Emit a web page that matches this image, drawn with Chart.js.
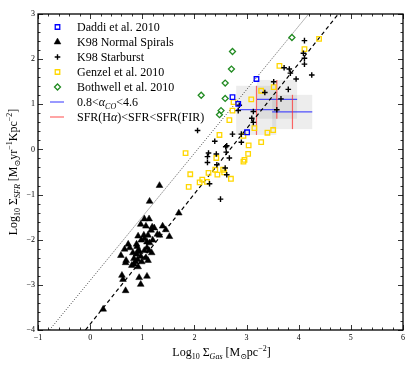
<!DOCTYPE html>
<html>
<head>
<meta charset="utf-8">
<script src="https://cdn.jsdelivr.net/npm/chart.js@4.4.1/dist/chart.umd.min.js"></script>
<style>
body { margin: 0; background: #fff; }
#wrap { width: 415px; height: 365px; }
</style>
</head>
<body>
<div id="wrap"><canvas id="ksChart" width="415" height="365"></canvas></div>
<script>
const SERIF = '"Liberation Serif", "DejaVu Serif", serif';

// axis ranges / tick labels
const xTicks = [-1, 0, 1, 2, 3, 4, 5, 6];
const yTicks = [-4, -3, -2, -1, 0, 1, 2, 3];

// Daddi et al. 2010
const daddiX = [3.19, 2.73, 2.84, 3.01];
const daddiY = [1.56, 1.16, 1.01, 0.38];

// K98 normal spirals
const normalX = [1.33, 1.14, 1.70, 1.04, 1.13, 0.97, 1.07, 1.19, 1.23, 1.39, 1.45, 1.17, 0.92, 1.03, 1.11, 1.29, 1.33, 1.52, 0.73, 0.76,
                 0.89, 0.98, 1.04, 1.09, 1.14, 1.20, 0.66, 0.82, 0.90, 0.92, 1.04, 1.13, 1.09, 1.18, 0.59, 0.69, 0.84, 0.89, 0.97, 1.07,
                 1.11, 0.95, 0.68, 0.80, 0.87, 0.92, 0.84, 0.99, 0.91, 0.61, 0.63, 0.94, 1.09, 0.97, 0.68, 0.25];
const normalY = [-0.80, -1.15, -1.41, -1.54, -1.54, -1.66, -1.70, -1.72, -1.74, -1.70, -1.78, -1.79, -1.92, -1.90, -1.90, -1.88, -1.90, -1.93, -2.10, -2.18,
                 -2.10, -2.01, -1.98, -2.05, -2.07, -2.01, -2.21, -2.29, -2.15, -2.24, -2.24, -2.24, -2.18, -2.29, -2.35, -2.46, -2.42, -2.32, -2.37, -2.40,
                 -2.46, -2.27, -2.51, -2.57, -2.49, -2.60, -2.54, -2.49, -2.44, -2.79, -2.88, -2.84, -2.81, -2.99, -3.13, -3.54];

// K98 starburst
const starX = [4.11, 4.09, 4.11, 4.11, 3.72, 3.82, 3.84, 3.95, 4.25, 3.52, 3.35, 3.80, 3.66, 3.58, 2.86, 2.84, 3.13, 3.10, 3.13, 2.73,
               2.90, 2.90, 2.39, 2.62, 2.60, 2.61, 2.67, 2.42, 2.25, 2.25, 2.27, 2.43, 2.59, 2.62, 2.29, 2.50, 2.06];
const starY = [2.41, 2.13, 2.02, 1.89, 1.81, 1.78, 1.69, 1.56, 1.65, 1.50, 1.26, 1.33, 1.12, 0.88, 0.98, 0.86, 0.84, 0.69, 0.60, 0.34,
               0.34, 0.16, 0.18, 0.08, 0.06, -0.06, -0.19, -0.10, -0.16, -0.29, -0.08, -0.34, -0.41, -0.56, -0.76, -1.10, 0.42];

// Genzel et al. 2010
const genzelX = [4.39, 4.11, 3.63, 3.52, 3.28, 3.09, 2.75, 2.73, 2.67, 2.48, 3.15, 3.51, 3.40, 2.94, 3.28, 3.04,
                 3.03, 2.96, 2.94, 2.42, 2.27, 2.40, 2.55, 2.57, 2.44, 2.70, 2.15, 1.92, 1.89, 2.10, 2.24, 1.83];
const genzelY = [2.45, 2.22, 1.85, 1.38, 1.30, 1.11, 1.05, 0.86, 0.65, 0.32, 0.47, 0.43, 0.37, 0.30, 0.16, 0.09,
                 -0.10, -0.23, -0.27, -0.19, -0.52, -0.45, -0.45, -0.51, -0.56, -0.65, -0.67, -0.55, -0.83, -0.73, -0.72, -0.08];

// Bothwell et al. 2010
const bothwellX = [2.13, 2.73, 2.71, 2.59, 2.59, 3.87, 2.51, 2.48];
const bothwellY = [1.20, 2.17, 1.78, 1.47, 1.13, 2.48, 0.86, 0.77];

// points with ranges (alpha_CO range in x, SFR range in y)
const errX = [3.19, 3.58, 3.88];
const errY = [0.88, 1.11, 0.83];
const errXLo = [2.80, 3.20, 3.49];
const errXHi = [3.57, 3.97, 4.26];
const errYLo = [0.32, 0.68, 0.45];
const errYHi = [1.41, 1.54, 1.21];

// relations
const kennX = [-0.09, 4.76];
const kennY = [-4, 3];
const dotX = [-0.78, 4.19];
const dotY = [-4, 3];

const legendLabels = [
    [['Daddi et al. 2010', '']],
    [['K98 Normal Spirals', '']],
    [['K98 Starburst', '']],
    [['Genzel et al. 2010', '']],
    [['Bothwell et al. 2010', '']],
    [['0.8<', ''], ['α', 'i'], ['CO', 'bi'], ['<4.6', '']],
    [['SFR(H', ''], ['α', 'i'], [')<SFR<SFR(FIR)', '']]
];
const xTitle = [['Log', ''], ['10', 'b'], [' Σ', ''], ['Gas', 'bi'], [' [M', ''], ['⊙', 'b'], ['pc', ''], ['−2', 'p'], [']', '']];
const yTitle = [['Log', ''], ['10', 'b'], [' Σ', ''], ['SFR', 'bi'], [' [M', ''], ['⊙', 'b'], ['yr', ''], ['−1', 'p'], ['Kpc', ''], ['−2', 'p'], [']', '']];

function pts(xs, ys) {
    return xs.map((x, i) => ({ x: x, y: ys[i] }));
}

function partFont(kind, size) {
    const small = kind.includes('b') || kind.includes('p');
    return (kind.includes('i') ? 'italic ' : '') + (small ? Math.round(size * 0.7) : size) + 'px ' + SERIF;
}
function partShift(kind, size) {
    if (kind.includes('b')) return size * 0.25;
    if (kind.includes('p')) return -size * 0.4;
    return 0;
}
function richWidth(ctx, parts, size) {
    let w = 0;
    for (const p of parts) {
        ctx.font = partFont(p[1], size);
        w += ctx.measureText(p[0]).width;
    }
    return w;
}
function drawRich(ctx, parts, x, y, size, align) {
    let cx = x;
    if (align === 'center') cx = x - richWidth(ctx, parts, size) / 2;
    ctx.textAlign = 'left';
    ctx.textBaseline = 'alphabetic';
    for (const p of parts) {
        ctx.font = partFont(p[1], size);
        ctx.fillText(p[0], cx, y + partShift(p[1], size));
        cx += ctx.measureText(p[0]).width;
    }
}

function tickFmt(v) {
    return v < 0 ? '−' + Math.abs(v) : String(v);
}

const decor = {
    id: 'decor',
    beforeDatasetsDraw(chart) {
        const ctx = chart.ctx, xs = chart.scales.x, ys = chart.scales.y, a = chart.chartArea;
        ctx.save();
        ctx.beginPath();
        ctx.rect(a.left, a.top, a.right - a.left, a.bottom - a.top);
        ctx.clip();
        ctx.fillStyle = 'rgba(0,0,0,0.07)';
        for (let i = 0; i < errX.length; i++) {
            const x0 = xs.getPixelForValue(errXLo[i]), x1 = xs.getPixelForValue(errXHi[i]);
            const y0 = ys.getPixelForValue(errYHi[i]), y1 = ys.getPixelForValue(errYLo[i]);
            ctx.fillRect(x0, y0, x1 - x0, y1 - y0);
        }
        ctx.lineWidth = 1.2;
        for (let i = 0; i < errX.length; i++) {
            const cx = xs.getPixelForValue(errX[i]), cy = ys.getPixelForValue(errY[i]);
            ctx.strokeStyle = 'rgba(40,40,255,0.8)';
            ctx.beginPath();
            ctx.moveTo(xs.getPixelForValue(errXLo[i]), cy);
            ctx.lineTo(xs.getPixelForValue(errXHi[i]), cy);
            ctx.stroke();
            ctx.strokeStyle = 'rgba(255,40,40,0.7)';
            ctx.beginPath();
            ctx.moveTo(cx, ys.getPixelForValue(errYLo[i]));
            ctx.lineTo(cx, ys.getPixelForValue(errYHi[i]));
            ctx.stroke();
        }
        ctx.restore();
    },
    afterDraw(chart) {
        const ctx = chart.ctx, xs = chart.scales.x, ys = chart.scales.y, a = chart.chartArea;
        ctx.save();
        // frame
        ctx.strokeStyle = '#000';
        ctx.lineWidth = 1.3;
        ctx.strokeRect(a.left, a.top, a.right - a.left, a.bottom - a.top);
        // inward ticks on all sides
        ctx.lineWidth = 0.8;
        ctx.beginPath();
        for (let i = 0; i <= 35; i++) {
            const v = xTicks[0] + i * 0.2;
            const len = i % 5 === 0 ? 5 : 2.5;
            const px = Math.round(xs.getPixelForValue(v)) + 0.5;
            ctx.moveTo(px, a.bottom); ctx.lineTo(px, a.bottom - len);
            ctx.moveTo(px, a.top); ctx.lineTo(px, a.top + len);
        }
        for (let i = 0; i <= 35; i++) {
            const v = yTicks[0] + i * 0.2;
            const len = i % 5 === 0 ? 5 : 2.5;
            const py = Math.round(ys.getPixelForValue(v)) + 0.5;
            ctx.moveTo(a.left, py); ctx.lineTo(a.left + len, py);
            ctx.moveTo(a.right, py); ctx.lineTo(a.right - len, py);
        }
        ctx.stroke();

        // legend
        const rowY = [27, 42, 57, 72, 87, 102, 117];
        const mx = 57.5, tx = 77;
        chart.data.datasets.forEach((ds, i) => {
            if (i >= 5) return;
            ctx.fillStyle = ds.pointBackgroundColor;
            ctx.strokeStyle = ds.pointBorderColor;
            ctx.lineWidth = ds.pointBorderWidth;
            Chart.helpers.drawPoint(ctx, { pointStyle: ds.pointStyle, radius: ds.pointRadius, rotation: 0, borderWidth: ds.pointBorderWidth }, mx, rowY[i]);
        });
        ctx.lineWidth = 1.2;
        ctx.strokeStyle = 'rgba(40,40,255,0.8)';
        ctx.beginPath(); ctx.moveTo(50, rowY[5]); ctx.lineTo(64, rowY[5]); ctx.stroke();
        ctx.strokeStyle = 'rgba(255,40,40,0.7)';
        ctx.beginPath(); ctx.moveTo(50, rowY[6]); ctx.lineTo(64, rowY[6]); ctx.stroke();
        ctx.fillStyle = '#000';
        legendLabels.forEach((parts, i) => drawRich(ctx, parts, tx, rowY[i] + 4, 12, 'left'));

        // axis titles
        drawRich(ctx, xTitle, (a.left + a.right) / 2 + 1, 356, 12, 'center');
        ctx.translate(17, (a.top + a.bottom) / 2);
        ctx.rotate(-Math.PI / 2);
        drawRich(ctx, yTitle, 0, 0, 12, 'center');
        ctx.restore();
    }
};

const ctx = document.getElementById('ksChart').getContext('2d');
const ksChart = new Chart(ctx, {
    type: 'scatter',
    data: {
        datasets: [{
            label: 'Daddi et al. 2010',
            data: pts(daddiX, daddiY),
            pointStyle: 'rect',
            pointRadius: 3.2,
            pointBorderWidth: 1.3,
            pointBorderColor: '#0000ff',
            pointBackgroundColor: 'rgba(0,0,0,0)'
        }, {
            label: 'K98 Normal Spirals',
            data: pts(normalX, normalY),
            pointStyle: 'triangle',
            pointRadius: 3.9,
            pointBorderWidth: 0.5,
            pointBorderColor: '#000',
            pointBackgroundColor: '#000'
        }, {
            label: 'K98 Starburst',
            data: pts(starX, starY),
            pointStyle: 'cross',
            pointRadius: 2.8,
            pointBorderWidth: 1.4,
            pointBorderColor: '#000',
            pointBackgroundColor: '#000'
        }, {
            label: 'Genzel et al. 2010',
            data: pts(genzelX, genzelY),
            pointStyle: 'rect',
            pointRadius: 3.2,
            pointBorderWidth: 1.3,
            pointBorderColor: '#ffd700',
            pointBackgroundColor: 'rgba(0,0,0,0)'
        }, {
            label: 'Bothwell et al. 2010',
            data: pts(bothwellX, bothwellY),
            pointStyle: 'rectRot',
            pointRadius: 3,
            pointBorderWidth: 1.3,
            pointBorderColor: '#228b22',
            pointBackgroundColor: 'rgba(0,0,0,0)'
        }, {
            label: 'K98 fit',
            data: pts(kennX, kennY),
            showLine: true,
            pointRadius: 0,
            borderColor: '#000',
            borderWidth: 1.2,
            borderDash: [4, 3]
        }, {
            label: 'dotted',
            data: pts(dotX, dotY),
            showLine: true,
            pointRadius: 0,
            borderColor: '#333',
            borderWidth: 0.9,
            borderDash: [1, 1.6]
        }]
    },
    options: {
        responsive: false,
        animation: false,
        devicePixelRatio: 1,
        layout: { padding: { left: 0, top: 14, right: 12, bottom: 0 } },
        plugins: {
            legend: { display: false },
            tooltip: { enabled: false }
        },
        scales: {
            x: {
                type: 'linear',
                min: xTicks[0],
                max: xTicks[xTicks.length - 1],
                grid: { display: false, drawTicks: false },
                border: { display: false },
                ticks: {
                    stepSize: 1,
                    padding: 3,
                    color: '#000',
                    font: { family: SERIF, size: 8 },
                    callback: tickFmt
                },
                afterFit: s => { s.height = 35; }
            },
            y: {
                type: 'linear',
                min: yTicks[0],
                max: yTicks[yTicks.length - 1],
                grid: { display: false, drawTicks: false },
                border: { display: false },
                ticks: {
                    stepSize: 1,
                    padding: 3,
                    color: '#000',
                    font: { family: SERIF, size: 8 },
                    callback: tickFmt
                },
                afterFit: s => { s.width = 38; }
            }
        }
    },
    plugins: [decor]
});
</script>
</body>
</html>
